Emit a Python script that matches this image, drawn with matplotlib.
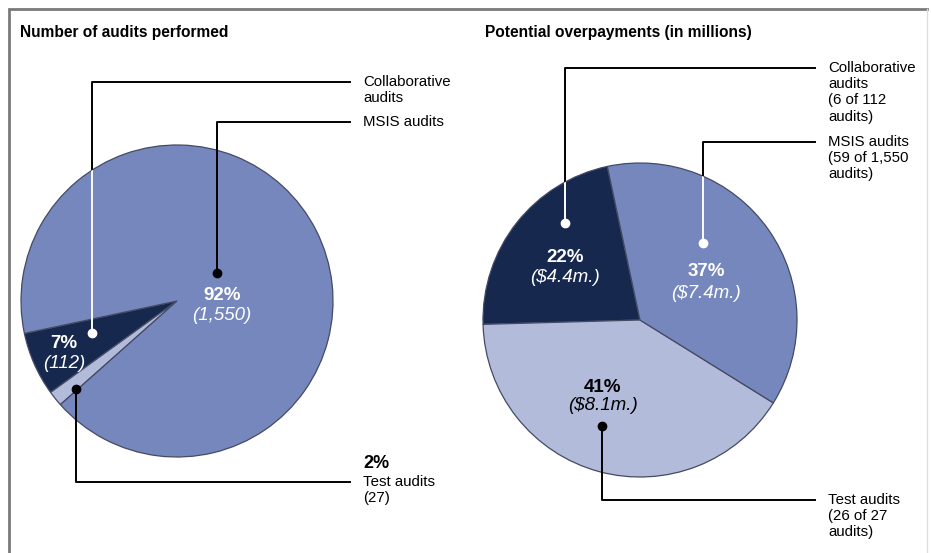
import matplotlib
matplotlib.use("Agg")
import matplotlib.pyplot as plt
from matplotlib.patches import Circle

plt.rcParams['font.family'] = ['Liberation Sans', 'DejaVu Sans']

# data
categories = ['Collaborative audits', 'Test audits', 'MSIS audits']
audit_counts = [112, 27, 1550]
audit_pct = ['7%', '2%', '92%']
overpay_millions = [4.4, 8.1, 7.4]
overpay_pct = ['22%', '41%', '37%']
overpay_labels = ['($4.4m.)', '($8.1m.)', '($7.4m.)']
colors = ['#17284f', '#b3bbdb', '#7587bd']

W, H = 931, 553


def Y(y):
    # pixel y (from top) -> data y
    return H - y


fig = plt.figure(figsize=(W / 100, H / 100), dpi=100)
ax = fig.add_axes([0, 0, 1, 1])

edge = dict(edgecolor='#454a63', linewidth=0.9)
left_c, left_r = (177, Y(301)), 156
right_c, right_r = (640, Y(320)), 157

ax.pie(audit_counts, colors=colors, startangle=192, center=left_c,
       radius=left_r, wedgeprops=edge)
ax.pie(overpay_millions, colors=colors, startangle=102, center=right_c,
       radius=right_r, wedgeprops=edge)

ax.set_xlim(0, W)
ax.set_ylim(0, H)
ax.set_aspect('equal')
ax.axis('off')

# frame round the graphic
ax.plot([9, 9, 927], [0, Y(9), Y(9)], color='#7a7a7a', lw=2, solid_joinstyle='miter')
ax.plot([927, 927], [Y(9), 0], color='#dddddd', lw=1)

# titles
ax.text(20, Y(32), 'Number of audits performed', fontsize=11.2, fontweight='bold',
        va='center', ha='left')
ax.text(485, Y(32), 'Potential overpayments (in millions)', fontsize=11.2,
        fontweight='bold', va='center', ha='left')

lab_fs = 10.8
pct_fs = 13.5


def leader(dot, corner_y, end_x, dot_color, white_in=None):
    # vertical line from dot to corner_y, then horizontal to end_x
    xs = [dot[0], dot[0], end_x]
    ys = [Y(dot[1]), Y(corner_y), Y(corner_y)]
    ax.plot(xs, ys, color='black', lw=1.4, zorder=3)
    if white_in is not None:
        ln, = ax.plot(xs[:2], ys[:2], color='white', lw=1.4, zorder=4)
        clip = Circle(white_in[0], white_in[1], transform=ax.transData)
        ln.set_clip_path(clip)
    ax.plot(dot[0], Y(dot[1]), 'o', color=dot_color, ms=6, zorder=5)


# left pie leaders
leader((92, 333), 82, 350, 'white', white_in=(left_c, left_r))
leader((217, 273), 122, 350, 'black')
leader((76, 389), 482, 350, 'black')

ax.text(363, Y(75), 'Collaborative\naudits', fontsize=lab_fs, va='top', ha='left',
        linespacing=1.2)
ax.text(363, Y(115), 'MSIS audits', fontsize=lab_fs, va='top', ha='left')
ax.text(363, Y(464), audit_pct[1], fontsize=13, fontweight='bold', va='center',
        ha='left')
ax.text(363, Y(475), 'Test audits\n(%d)' % audit_counts[1], fontsize=lab_fs,
        va='top', ha='left', linespacing=1.2)

ax.text(222, Y(295), audit_pct[2], fontsize=pct_fs, fontweight='bold',
        color='white', ha='center', va='center')
ax.text(222, Y(316), '(%s)' % format(audit_counts[2], ','), fontsize=pct_fs,
        style='italic', color='white', ha='center', va='center')
ax.text(64, Y(343), audit_pct[0], fontsize=pct_fs, fontweight='bold',
        color='white', ha='center', va='center')
ax.text(64, Y(363), '(%d)' % audit_counts[0], fontsize=pct_fs, style='italic',
        color='white', ha='center', va='center')

# right pie leaders
leader((565, 223), 68, 815, 'white', white_in=(right_c, right_r))
leader((703, 243), 142, 815, 'white', white_in=(right_c, right_r))
leader((602, 426), 500, 815, 'black')

ax.text(828, Y(61), 'Collaborative\naudits\n(6 of 112\naudits)', fontsize=lab_fs,
        va='top', ha='left', linespacing=1.2)
ax.text(828, Y(135), 'MSIS audits\n(59 of 1,550\naudits)', fontsize=lab_fs,
        va='top', ha='left', linespacing=1.2)
ax.text(828, Y(493), 'Test audits\n(26 of 27\naudits)', fontsize=lab_fs,
        va='top', ha='left', linespacing=1.2)

ax.text(565, Y(257), overpay_pct[0], fontsize=pct_fs, fontweight='bold',
        color='white', ha='center', va='center')
ax.text(565, Y(277), overpay_labels[0], fontsize=pct_fs, style='italic',
        color='white', ha='center', va='center')
ax.text(706, Y(271), overpay_pct[2], fontsize=pct_fs, fontweight='bold',
        color='white', ha='center', va='center')
ax.text(706, Y(293), overpay_labels[2], fontsize=pct_fs, style='italic',
        color='white', ha='center', va='center')
ax.text(603, Y(388), overpay_pct[1], fontsize=pct_fs, fontweight='bold',
        color='black', ha='center', va='center')
ax.text(603, Y(406), overpay_labels[1], fontsize=pct_fs, style='italic',
        color='black', ha='center', va='center')

fig.savefig('out.png', dpi=100)
